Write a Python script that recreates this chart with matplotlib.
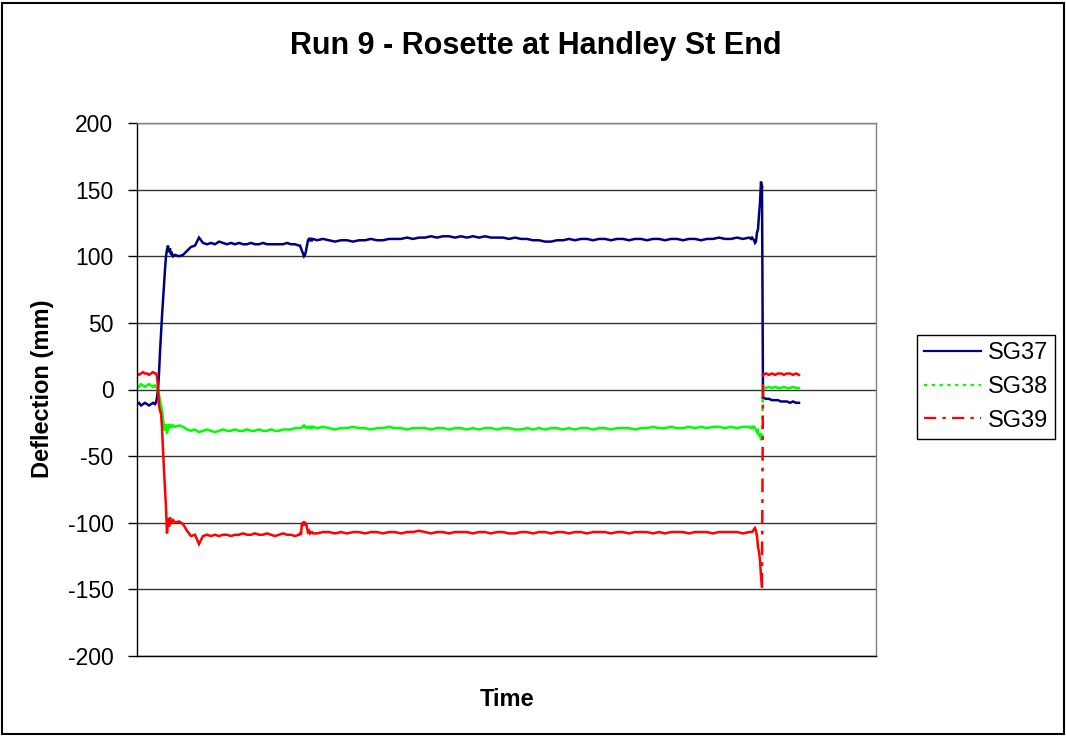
import numpy as np
import matplotlib
matplotlib.use("Agg")
import matplotlib.pyplot as plt
from matplotlib.lines import Line2D
from matplotlib.patches import Rectangle

plt.rcParams["font.family"] = ["Liberation Sans", "DejaVu Sans"]
plt.rcParams["axes.unicode_minus"] = False

# Sample times (logger sample positions along the run)
time = np.concatenate([
    np.arange(4, 23, 2),
    np.arange(23, 41),
    np.arange(42, 167, 4),
    np.arange(167, 181),
    np.arange(184, 617, 6),
    np.arange(618, 630),
    np.arange(630, 667, 3),
])

sg37 = [
    -11, -10, -12, -11, -10, -11, -12, -11, -10, -11,
    -10, -6, 0, 12, 28, 42, 55, 67, 80, 90, 100, 105, 108, 103, 106, 101, 102, 100,
    101, 100, 101, 104, 107, 108, 114, 110, 109, 110,
    109, 111, 110, 109, 110, 109, 110, 109, 109, 110,
    109, 109, 110, 109, 109, 109, 109, 109, 110, 109,
    109, 108,
    108, 106, 104, 102, 100, 101, 104, 108, 112, 113, 112, 113, 112, 113,
    112, 113, 112, 111, 112, 112, 111, 112, 112, 113,
    112, 112, 113, 113, 113, 114, 113, 114, 114, 115,
    114, 115, 115, 114, 115, 114, 115, 114, 115, 114,
    114, 114, 113, 114, 113, 113, 112, 112, 111, 111,
    112, 112, 113, 112, 113, 113, 112, 113, 113, 112,
    113, 113, 112, 113, 113, 112, 113, 113, 112, 113,
    113, 112, 113, 113, 112, 113, 113, 114, 113, 113,
    114, 113, 114,
    113, 114, 113, 112, 110, 111, 118, 120, 131, 140, 156, 152,
    -6, -7, -7, -8, -8, -8, -9, -9, -9, -10, -9, -10, -10,
]

sg38 = [
    3, 2, 4, 3, 2, 3, 4, 3, 2, 3,
    2, 1, -1, -4, -8, -12, -15, -22, -28, -31, -26, -33, -29, -26, -29, -27, -28, -27,
    -28, -27, -28, -30, -31, -30, -32, -31, -30, -31,
    -32, -31, -30, -31, -31, -30, -31, -31, -30, -31,
    -31, -30, -31, -31, -30, -31, -31, -30, -30, -30,
    -29, -29,
    -29, -29, -28, -28, -27, -28, -28, -29, -28, -28, -29, -28, -29, -28,
    -29, -28, -29, -30, -29, -29, -28, -29, -29, -30,
    -29, -29, -28, -29, -29, -30, -29, -29, -29, -30,
    -29, -29, -30, -29, -29, -30, -29, -30, -29, -29,
    -30, -29, -29, -30, -30, -29, -30, -29, -30, -29,
    -29, -30, -29, -30, -29, -29, -30, -29, -29, -30,
    -29, -29, -29, -30, -29, -29, -28, -29, -29, -28,
    -29, -29, -28, -29, -28, -29, -28, -28, -29, -28,
    -29, -28, -28,
    -29, -28, -29, -28, -29, -30, -32, -31, -35, -33, -38, -36,
    2, 1, 2, 1, 2, 1, 1, 2, 1, 1, 2, 1, 1,
]

sg39 = [
    12, 11, 12, 13, 12, 12, 11, 12, 13, 12,
    12, 10, 2, -12, -16, -18, -28, -45, -60, -75, -88, -108, -97, -103, -96, -100, -99, -98,
    -100, -99, -101, -106, -110, -109, -116, -110, -109, -110,
    -109, -110, -109, -109, -110, -109, -109, -108, -109, -109,
    -108, -109, -109, -108, -109, -110, -109, -108, -109, -109,
    -110, -109,
    -108, -109, -100, -101, -99, -102, -100, -104, -107, -106, -108, -107, -107, -108,
    -108, -107, -107, -108, -107, -108, -107, -107, -108, -107,
    -107, -108, -107, -107, -108, -107, -107, -106, -107, -108,
    -107, -107, -108, -107, -107, -107, -108, -107, -107, -108,
    -107, -107, -108, -108, -107, -107, -108, -107, -107, -108,
    -107, -107, -108, -107, -107, -108, -107, -107, -107, -108,
    -107, -107, -108, -107, -107, -107, -108, -107, -108, -107,
    -107, -107, -108, -107, -107, -107, -108, -107, -107, -107,
    -107, -108, -107,
    -107, -107, -106, -105, -104, -106, -110, -118, -122, -128, -140, -148,
    11, 12, 11, 12, 11, 12, 12, 11, 12, 12, 11, 12, 11,
]

series_names = ["SG37", "SG38", "SG39"]
series_colors = ["#000080", "#00FF00", "#FF0000"]
series_styles = ["-", (0, (1.5, 2.0)), (0, (5.5, 2.8, 1.5, 2.8))]
y_ticks = [-200, -150, -100, -50, 0, 50, 100, 150, 200]

W, H = 1066, 736
fig = plt.figure(figsize=(W / 100, H / 100), dpi=100)
fig.patch.set_facecolor("white")

# outer chart-area border
fig.add_artist(Rectangle((2 / W, 2 / H), (W - 4) / W, (H - 5) / H,
                         transform=fig.transFigure, fill=False,
                         edgecolor="black", linewidth=1.5))

left, right, top, bottom = 137, 876, 123, 656
ax = fig.add_axes([left / W, 1 - bottom / H, (right - left) / W, (bottom - top) / H])

LW = 1.8


def draw_series(t, v, color, style, label):
    """Dense logged traces render solid; the long jumps between samples show the dash style."""
    t = np.asarray(t, dtype=float)
    v = np.asarray(v, dtype=float)
    jumps = np.where(np.abs(np.diff(v)) > 30)[0]
    start = 0
    for j in jumps:
        ax.plot(t[start:j + 1], v[start:j + 1], color=color, lw=LW,
                solid_joinstyle="miter")
        ax.plot(t[j:j + 2], v[j:j + 2], color=color, lw=LW, linestyle=style)
        start = j + 1
    ax.plot(t[start:], v[start:], color=color, lw=LW, solid_joinstyle="miter")
    return Line2D([], [], color=color, lw=1.6, linestyle=style, label=label)


handles = []
for vals, name, col, sty in zip([sg37, sg38, sg39], series_names, series_colors, series_styles):
    handles.append(draw_series(time, vals, col, sty, name))

ax.set_xlim(4, 743)
ax.set_ylim(-200, 200)
ax.set_yticks(y_ticks)
ax.set_yticklabels([str(v) for v in y_ticks])
ax.tick_params(axis="y", direction="out", length=6.5, width=1, pad=10.5,
               labelsize=16.5, color="black")
ax.tick_params(axis="x", bottom=False, labelbottom=False)
ax.yaxis.grid(True, color="#333333", linewidth=1.0)
ax.set_axisbelow(True)

ax.spines["left"].set_color("black")
ax.spines["bottom"].set_color("black")
ax.spines["top"].set_color("#808080")
ax.spines["right"].set_color("#808080")
for s in ax.spines.values():
    s.set_linewidth(1.0)

fig.text(536 / W, 1 - 46 / H, "Run 9 - Rosette at Handley St End",
         ha="center", va="center", fontsize=22, fontweight="bold")
fig.text(43 / W, 1 - 389 / H, "Deflection (mm)", rotation=90,
         ha="center", va="center", fontsize=17, fontweight="bold")
fig.text(507 / W, 1 - 699 / H, "Time", ha="center", va="center",
         fontsize=17, fontweight="bold")

leg = fig.legend(handles=handles, loc="upper left",
                 bbox_to_anchor=(917 / W, 1 - 335 / H),
                 fontsize=17, frameon=True, fancybox=False, shadow=False,
                 handlelength=2.4, handletextpad=0.3, labelspacing=0.5,
                 borderpad=0.3, borderaxespad=0.0)
leg.get_frame().set_edgecolor("black")
leg.get_frame().set_linewidth(1.0)
leg.get_frame().set_alpha(1.0)

fig.savefig("out.png", dpi=100, facecolor="white")
